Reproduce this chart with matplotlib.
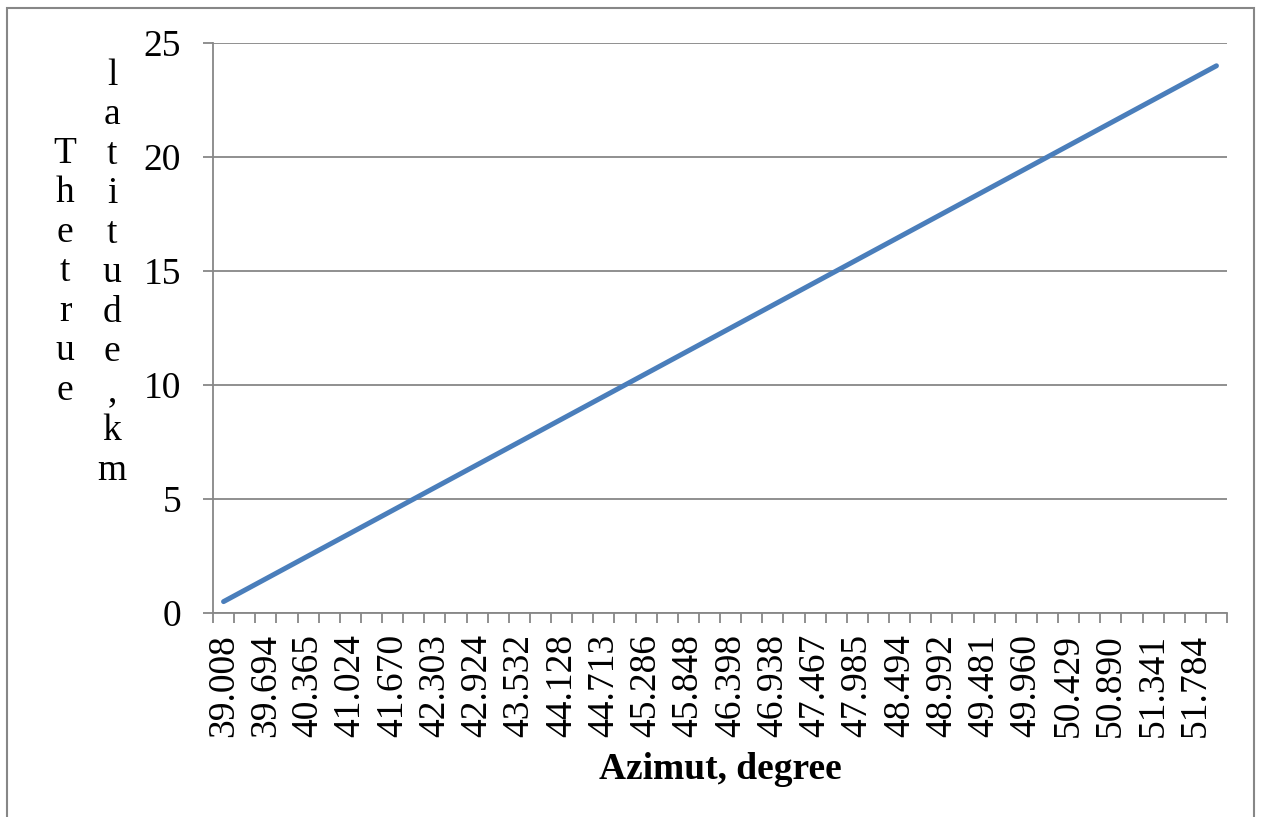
import numpy as np
import matplotlib
matplotlib.use("Agg")
import matplotlib.pyplot as plt
import matplotlib.patches as patches

# azimuth labels shown on the axis (every second category)
azimut_labels = ["39.008", "39.694", "40.365", "41.024", "41.670", "42.303",
                 "42.924", "43.532", "44.128", "44.713", "45.286", "45.848",
                 "46.398", "46.938", "47.467", "47.985", "48.494", "48.992",
                 "49.481", "49.960", "50.429", "50.890", "51.341", "51.784"]

# true latitude, km (one value per category)
latitude = [0.5, 1.0, 1.5, 2.0, 2.5, 3.0, 3.5, 4.0, 4.5, 5.0,
            5.5, 6.0, 6.5, 7.0, 7.5, 8.0, 8.5, 9.0, 9.5, 10.0,
            10.5, 11.0, 11.5, 12.0, 12.5, 13.0, 13.5, 14.0, 14.5, 15.0,
            15.5, 16.0, 16.5, 17.0, 17.5, 18.0, 18.5, 19.0, 19.5, 20.0,
            20.5, 21.0, 21.5, 22.0, 22.5, 23.0, 23.5, 24.0]

plt.rcParams['font.family'] = ['Liberation Serif', 'DejaVu Serif']
grid_col = '#878787'
fs = 27

W, H = 1262, 817
fig = plt.figure(figsize=(W / 100, H / 100), dpi=100)
ax = fig.add_axes([213 / W, 1 - 613 / H, (1227 - 213) / W, (613 - 43) / H])

x = np.arange(len(latitude))
ax.plot(x, latitude, color='#4A7EBB', lw=3.6, solid_capstyle='round', zorder=3)

ax.set_xlim(-0.5, len(latitude) - 0.5)
ax.set_ylim(0, 25)
ax.set_yticks([0, 5, 10, 15, 20, 25])
ax.yaxis.grid(True, color=grid_col, lw=1.3)
ax.set_axisbelow(True)

# labels at every other category, tick marks between categories
ax.set_xticks(x[::2])
ax.set_xticklabels(azimut_labels, rotation=90, fontsize=fs)
ax.set_xticks(np.arange(-0.5, len(latitude), 1.0), minor=True)
ax.tick_params(axis='x', which='major', length=0, pad=15)
ax.tick_params(axis='x', which='minor', length=7, width=1.3, color=grid_col, direction='out')
ax.tick_params(axis='y', length=7, width=1.3, color=grid_col, labelsize=fs, pad=16)

for s in ['top', 'right']:
    ax.spines[s].set_visible(False)
for s in ['left', 'bottom']:
    ax.spines[s].set_color(grid_col)
    ax.spines[s].set_linewidth(1.3)

ax.set_xlabel("Azimut, degree", fontsize=fs, fontweight='bold', labelpad=11)

# stacked y label
fig.text(65 / W, 1 - 272 / H, "\n".join("Thetrue"), fontsize=fs,
         ha='center', va='center', linespacing=1.19)
fig.text(112 / W, 1 - 273 / H, "\n".join("latitude,km"), fontsize=fs,
         ha='center', va='center', linespacing=1.19)

# chart border
fig.patches.append(patches.Rectangle((7 / W, -0.01), (1254 - 7) / W, 1 - 8 / H + 0.01,
                                     transform=fig.transFigure, fill=False,
                                     edgecolor=grid_col, lw=1.5))

fig.savefig("out.png", dpi=100)
